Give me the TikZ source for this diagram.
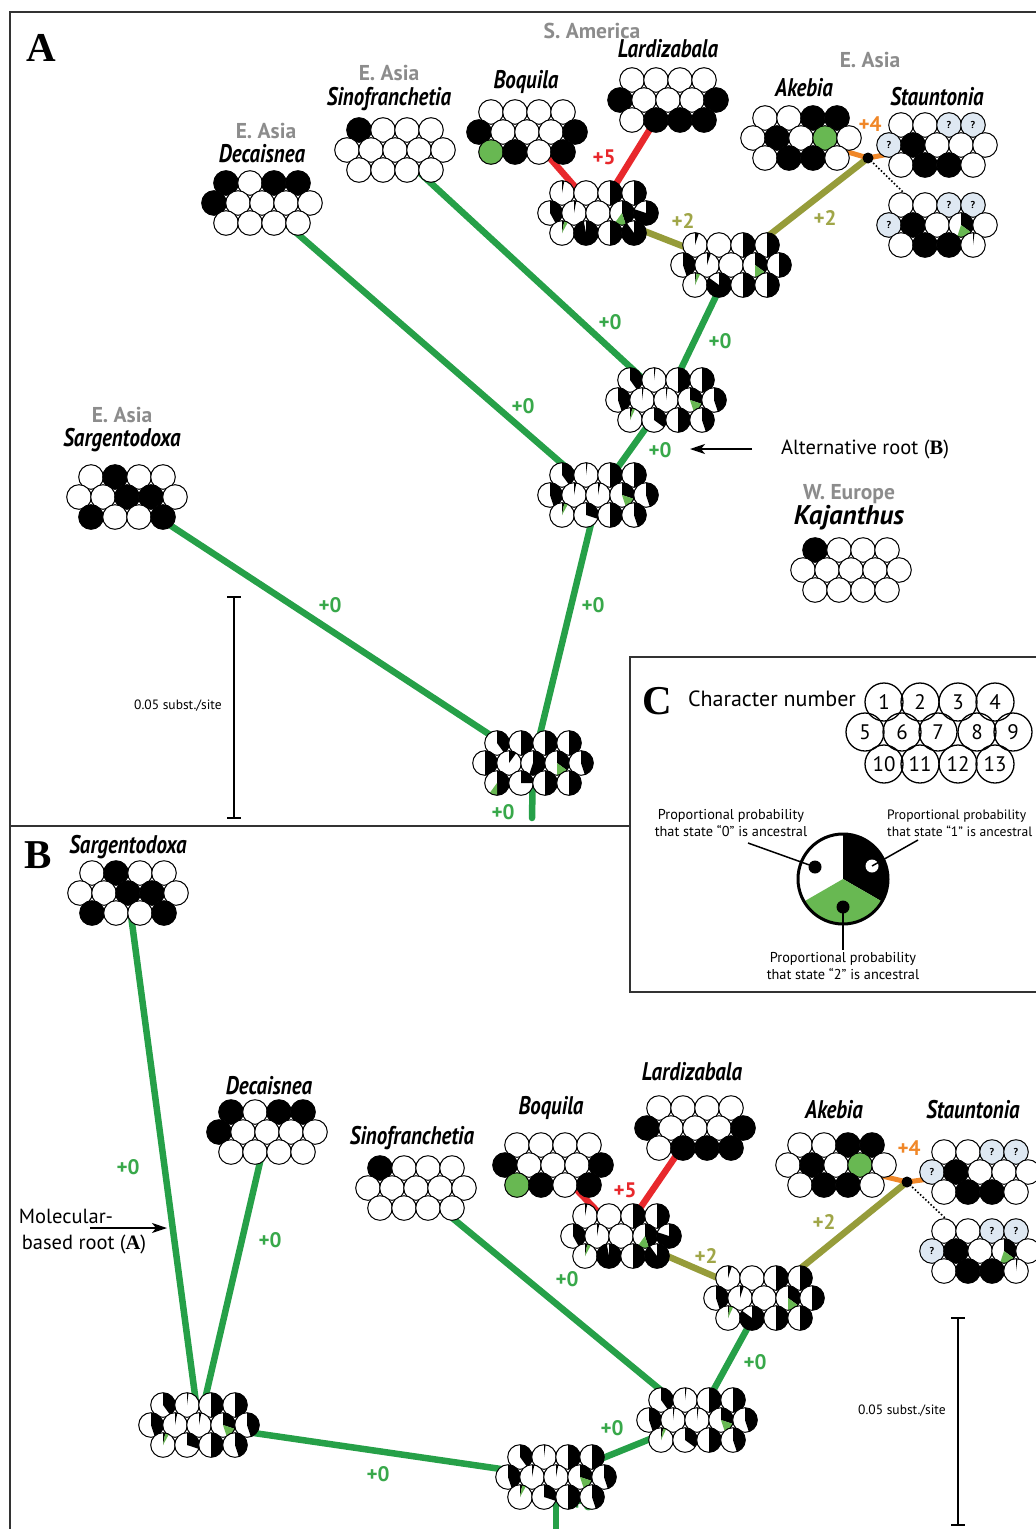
\documentclass[tikz,border=0pt]{standalone}
\usepackage{fontspec}
\setmainfont{PT Sans}
\newfontfamily\taxfont[FakeStretch=0.82]{PT Sans}
\newfontfamily\panelfont{Liberation Serif}
\usetikzlibrary{arrows.meta}
\definecolor{brgreen}{RGB}{38,160,72}
\definecolor{labgreen}{RGB}{56,168,74}
\definecolor{piegreen}{RGB}{104,184,82}
\definecolor{brred}{RGB}{232,40,44}
\definecolor{brolive}{RGB}{150,156,58}
\definecolor{labolive}{RGB}{160,166,72}
\definecolor{brorange}{RGB}{240,135,40}
\definecolor{regiongray}{RGB}{140,140,140}
\definecolor{qfill}{RGB}{222,232,242}
\pgfdeclarelayer{back}
\pgfdeclarelayer{bg}
\pgfsetlayers{back,bg,main}

\newcommand\cS{24}
\newcommand\cH{20}
\newcommand\cR{12.3}

% one pie: prefix, x, y, black fraction (-1 = unknown), green fraction
\newcommand\pieC[5]{%
  \begin{scope}[shift={(#2,#3)}]
  \ifdim #4pt<0pt
    \filldraw[fill=qfill, draw=black, line width=1] (0,0) circle (\cR);
    \node[qmark] (#1) at (0,0) {?};
  \else
    \fill[white] (0,0) circle (\cR);
    \ifdim #4pt>0pt
      \fill[black] (0,0) -- (-90:\cR) arc[start angle=-90, end angle={-90+360*#4}, radius=\cR] -- cycle;
    \fi
    \ifdim #5pt>0pt
      \fill[piegreen] (0,0) -- ({-90+360*#4}:\cR) arc[start angle={-90+360*#4}, end angle={-90+360*(#4+#5)}, radius=\cR] -- cycle;
    \fi
    \draw[line width=1] (0,0) circle (\cR);
  \fi
  \end{scope}}

% cluster of 13 characters: name, cx, cy, list of black/green
\newcommand\clus[4]{%
  \coordinate (#1) at (#2,#3);
  \fill[white] ({#2-1.5*\cS},{#3-\cH}) -- ({#2+1.5*\cS},{#3-\cH}) -- ({#2+2*\cS},#3) -- ({#2+1.5*\cS},{#3+\cH}) -- ({#2-1.5*\cS},{#3+\cH}) -- ({#2-2*\cS},#3) -- cycle;
  \foreach \stA/\stB [count=\ci] in {#4} {
    \pgfmathsetmacro\px{#2+\cS*(\ci<5 ? \ci-2.5 : (\ci<10 ? \ci-7 : \ci-11.5))}
    \pgfmathsetmacro\py{#3+\cH*(\ci<5 ? -1 : (\ci<10 ? 0 : 1))}
    \pieC{#1q\ci}{\px}{\py}{\stA}{\stB}
  }}

\begin{document}
\begin{tikzpicture}[x=1pt,y=-1pt,
  frame/.style={draw=black!80, line width=1.8},
  gbr/.style={line width=6.5, draw=brgreen},
  rbr/.style={line width=6.5, draw=brred},
  obr/.style={line width=6.5, draw=brolive},
  orbr/.style={line width=5, draw=brorange},
  taxon/.style={font=\taxfont\bfseries\itshape\fontsize{25.5}{25.5}\selectfont, inner sep=0},
  kaj/.style={font=\bfseries\itshape\fontsize{27}{27}\selectfont, inner sep=0},
  region/.style={font=\bfseries\fontsize{21.5}{21.5}\selectfont, text=regiongray, inner sep=0},
  glab/.style={font=\bfseries\fontsize{21}{21}\selectfont, text=labgreen, inner sep=0},
  rlab/.style={font=\bfseries\fontsize{21}{21}\selectfont, text=brred, inner sep=0},
  olab/.style={font=\bfseries\fontsize{21}{21}\selectfont, text=labolive, inner sep=0},
  orlab/.style={font=\bfseries\fontsize{21}{21}\selectfont, text=brorange, inner sep=0},
  note/.style={font=\fontsize{20.5}{20.5}\selectfont, inner sep=0},
  small/.style={font=\fontsize{14.3}{17}\selectfont, inner sep=0, align=center},
  tiny/.style={font=\fontsize{13.5}{14}\selectfont, inner sep=0},
  panel/.style={font=\panelfont\bfseries\fontsize{41}{41}\selectfont, inner sep=0},
  qmark/.style={font=\bfseries\fontsize{10}{10}\selectfont, inner sep=0},
  jdot/.style={circle, fill=black, inner sep=0, minimum size=11},
  numc/.style={circle, draw, line width=1.3, minimum size=38, inner sep=0, font=\fontsize{21}{21}\selectfont},
  arr/.style={line width=1.6, -{Stealth[length=15pt, width=10pt, inset=4pt]}},
  sbar/.style={line width=1.4},
]
\useasboundingbox (0,0) rectangle (1036,1529);
\begin{pgfonlayer}{back}
  \fill[white] (0,0) rectangle (1036,1529);
\end{pgfonlayer}

% ---------- frames ----------
\draw[frame] (1036,12) -- (10,12) -- (10,1529);
\draw[frame] (10,826) -- (630,826);
\draw[frame, fill=white] (1036,657) -- (630,657) -- (630,992) -- (1036,992);

% ================= PANEL A =================
\clus{sarA}{127}{497}{0/0,1/0,0/0,0/0,0/0,0/0,1/0,1/0,0/0,1/0,0/0,0/0,1/0}
\clus{decA}{262}{203}{1/0,0/0,1/0,1/0,1/0,0/0,0/0,0/0,0/0,0/0,0/0,0/0,0/0}
\clus{sinA}{395}{150}{1/0,0/0,0/0,0/0,0/0,0/0,0/0,0/0,0/0,0/0,0/0,0/0,0/0}
\clus{boqA}{527}{132}{0/0,0/0,0/0,0/0,1/0,0/0,0/0,0/0,1/0,0/1,1/0,0/0,1/0}
\clus{larA}{668}{100}{0/0,0/0,0/0,0/0,1/0,0/0,0/0,0/0,1/0,0/0,1/0,1/0,1/0}
\clus{akeA}{801}{138}{0/0,0/0,1/0,1/0,0/0,1/0,0/0,0/1,0/0,0/0,1/0,1/0,0/0}
\clus{staA}{937}{145}{0/0,0/0,-1/0,-1/0,-1/0,1/0,0/0,0/0,0/0,0/0,1/0,1/0,0/0}
\clus{stbA}{937}{225}{0/0,0/0,-1/0,-1/0,-1/0,1/0,0/0,0.35/0.2,0/0,0/0,1/0,1/0,0.02/0}
\clus{kajA}{851}{570}{1/0,0/0,0/0,0/0,0/0,0/0,0/0,0/0,0/0,0/0,0/0,0/0,0/0}
\clus{blA}{598}{213}{0.03/0,0/0,0.5/0,0.5/0,0.42/0,0.03/0,0/0,0.45/0.15,0.8/0,0.03/0.05,0.97/0,0.5/0,0.9/0}
\clus{asA}{731}{265}{0.05/0,0/0,0.5/0,0.5/0,0.45/0,0.05/0,0/0,0.35/0.15,0.5/0,0.02/0.05,0.85/0,0.5/0,0.5/0}
\clus{n3A}{666}{400}{0.4/0,0.02/0,0.5/0,0.5/0,0.45/0,0.02/0,0.02/0,0.3/0.15,0.45/0,0.03/0.04,0.35/0,0.5/0,0.45/0}
\clus{n2A}{598}{495}{0.4/0,0.02/0,0.5/0,0.5/0,0.45/0,0.03/0,0.03/0,0.3/0.15,0.45/0,0.03/0.05,0.3/0,0.5/0,0.45/0}
\node[glab] (g7) at (503,812) {+0};
\clus{n1A}{533}{763}{0.4/0,0.5/0,0.5/0,0.5/0,0.5/0,0.1/0,0.55/0,0.35/0.15,0.45/0,0.5/0.1,0.25/0,0.5/0,0.5/0}
\node[jdot] (jA) at (868,158) {};
\coordinate (rootA) at (532,818);

\begin{pgfonlayer}{bg}
  \draw[gbr] (sarA) -- (n1A);
  \draw[gbr] (decA) -- (n2A);
  \draw[gbr] (sinA) -- (n3A);
  \draw[gbr] (asA) -- (n3A);
  \draw[gbr] (n3A) -- (n2A);
  \draw[gbr] (n2A) -- (n1A);
  \draw[gbr, line cap=round] (n1A) -- (rootA);
  \draw[rbr] (boqA) -- (blA);
  \draw[rbr] (larA) -- (blA);
  \draw[obr] (blA) -- (asA);
  \draw[obr] (asA) -- (jA.center);
  \draw[orbr] (akeA) -- (jA.center) -- (staA);
  \draw[dotted, line width=1.6] (jA.center) -- (stbA);
\end{pgfonlayer}

\node[panel] (labA) at (41,48) {A};
\node[region] (rSAm) at (592,31) {S. America};
\node[taxon] (tLarA) at (668,49) {Lardizabala};
\node[region] (rEAa) at (870,60) {E. Asia};
\node[region] (rEAs) at (389,73) {E. Asia};
\node[taxon] (tSinA) at (389,99) {Sinofranchetia};
\node[taxon] (tBoqA) at (526,82) {Boquila};
\node[taxon] (tAkeA) at (804,88) {Akebia};
\node[taxon] (tStaA) at (937,97) {Stauntonia};
\node[region] (rEAd) at (266,131) {E. Asia};
\node[taxon] (tDecA) at (262,154) {Decaisnea};
\node[region] (rEAg) at (122,415) {E. Asia};
\node[taxon] (tSarA) at (122,440) {Sargentodoxa};
\node[region] (rWEu) at (849,494) {W. Europe};
\node[kaj] (tKaj) at (849,518) {Kajanthus};

\node[rlab] (iBL) at (604,157) {+5};
\node[orlab] (iAS) at (870,124) {+4};
\node[olab] (iO1) at (683,221) {+2};
\node[olab] (iO2) at (825,218) {+2};
\node[glab] (g1) at (610,322) {+0};
\node[glab] (g2) at (720,341) {+0};
\node[glab] (g3) at (523,406) {+0};
\node[glab] (g4) at (660,450) {+0};
\node[glab] (g5) at (593,605) {+0};
\node[glab] (g6) at (330,605) {+0};

\node[note] (alt) at (865,449) {Alternative root ({\panelfont\bfseries B})};
\coordinate (altTail) at (752,449);
\coordinate (altTip) at (690,449);
\draw[arr] (altTail) -- (altTip);

\coordinate (sA1) at (234,597);
\coordinate (sA2) at (234,818);
\draw[sbar] (sA1) -- (sA2);
\draw[sbar] ([xshift=-7]sA1) -- ([xshift=7]sA1);
\draw[sbar] ([xshift=-7]sA2) -- ([xshift=7]sA2);
\node[tiny] (sAt) at (178,706) {0.05 subst./site};

% ================= PANEL C =================
\node[panel] (labC) at (657,701) {C};
\node[note, font=\fontsize{22}{22}\selectfont] (charnum) at (772,699) {Character number};
\foreach \n/\x/\y in {1/884/702,2/920/702,3/958/702,4/995/702,5/865/732,6/902/732,7/938/732,8/977/732,9/1013/732,10/884/764,11/920/764,12/958/764,13/995/764}
  \node[numc] (cn\n) at (\x,\y) {\n};
\begin{scope}[shift={(843,879)}]
  \fill[white] (0,0) circle (45);
  \fill[black] (0,0) -- (-90:45) arc[start angle=-90, end angle=30, radius=45] -- cycle;
  \fill[piegreen] (0,0) -- (30:45) arc[start angle=30, end angle=150, radius=45] -- cycle;
  \draw[line width=3] (0,0) circle (45);
\end{scope}
\node[circle, fill=black, inner sep=0, minimum size=13] (d0) at (815,867) {};
\node[circle, fill=white, inner sep=0, minimum size=13] (d1) at (872,866) {};
\node[circle, fill=black, inner sep=0, minimum size=13] (d2) at (843,907) {};
\coordinate (l0) at (748,843);
\coordinate (l1) at (918,840);
\coordinate (l2) at (843,950);
\draw[line width=1.5] (d0.center) -- (l0);
\draw[line width=1.5] (d1.center) -- (l1);
\draw[line width=1.5] (d2.center) -- (l2);
\node[small] (t0) at (731,823) {Proportional probability\\that state “0” is ancestral};
\node[small, font=\fontsize{13.6}{17}\selectfont, anchor=west, align=left] (t1) at (887,823) {Proportional probability\\that state “1” is ancestral};
\node[small] (t2) at (843,966) {Proportional probability\\that state “2” is ancestral};

% ================= PANEL B =================
\clus{sarB}{128}{893}{0/0,1/0,0/0,0/0,0/0,0/0,1/0,1/0,0/0,1/0,0/0,0/0,1/0}
\clus{decB}{267}{1132}{1/0,0/0,1/0,1/0,1/0,0/0,0/0,0/0,0/0,0/0,0/0,0/0,0/0}
\clus{sinB}{416}{1188}{1/0,0/0,0/0,0/0,0/0,0/0,0/0,0/0,0/0,0/0,0/0,0/0,0/0}
\clus{boqB}{553}{1165}{0/0,0/0,0/0,0/0,1/0,0/0,0/0,0/0,1/0,0/1,1/0,0/0,1/0}
\clus{larB}{695}{1128}{0/0,0/0,0/0,0/0,1/0,0/0,0/0,0/0,1/0,0/0,1/0,1/0,1/0}
\clus{akeB}{836}{1165}{0/0,0/0,1/0,1/0,0/0,1/0,0/0,0/1,0/0,0/0,1/0,1/0,0/0}
\clus{staB}{980}{1172}{0/0,0/0,-1/0,-1/0,-1/0,1/0,0/0,0/0,0/0,0/0,1/0,1/0,0/0}
\clus{stbB}{980}{1251}{0/0,0/0,-1/0,-1/0,-1/0,1/0,0/0,0.35/0.2,0/0,0/0,1/0,1/0,0.02/0}
\clus{blB}{621}{1236}{0.03/0,0/0,0.5/0,0.5/0,0.42/0,0.03/0,0/0,0.45/0.15,0.8/0,0.03/0.05,0.97/0,0.5/0,0.9/0}
\clus{asB}{764}{1298}{0.05/0,0/0,0.5/0,0.5/0,0.45/0,0.05/0,0/0,0.35/0.15,0.5/0,0.02/0.05,0.85/0,0.5/0,0.5/0}
\clus{n3B}{697}{1420}{0.4/0,0.02/0,0.5/0,0.5/0,0.45/0,0.02/0,0.02/0,0.3/0.15,0.45/0,0.03/0.04,0.35/0,0.5/0,0.45/0}
\node[glab] (h7) at (583,1503) {+0};
\clus{rtB}{556}{1477}{0.4/0,0.02/0,0.5/0,0.5/0,0.45/0,0.03/0,0.03/0,0.3/0.15,0.45/0,0.03/0.05,0.3/0,0.5/0,0.45/0}
\clus{n1B}{199}{1425}{0.4/0,0.02/0,0.5/0,0.5/0,0.45/0,0.03/0,0.03/0,0.3/0.15,0.45/0,0.03/0.05,0.3/0,0.5/0,0.45/0}
\node[jdot] (jB) at (907,1182) {};
\coordinate (rootB) at (556,1535);

\begin{pgfonlayer}{bg}
  \draw[gbr] (sarB) -- (n1B);
  \draw[gbr] (decB) -- (n1B);
  \draw[gbr] (n1B) -- (rtB);
  \draw[gbr] (rtB) -- (n3B);
  \draw[gbr] (sinB) -- (n3B);
  \draw[gbr] (asB) -- (n3B);
  \draw[gbr] (rtB) -- (rootB);
  \draw[rbr] (boqB) -- (blB);
  \draw[rbr] (larB) -- (blB);
  \draw[obr] (blB) -- (asB);
  \draw[obr] (asB) -- (jB.center);
  \draw[orbr] (akeB) -- (jB.center) -- (staB);
  \draw[dotted, line width=1.6] (jB.center) -- (stbB);
\end{pgfonlayer}

\node[panel] (labB) at (38,855) {B};
\node[taxon] (tSarB) at (128,847) {Sargentodoxa};
\node[taxon] (tDecB) at (269,1086) {Decaisnea};
\node[taxon] (tLarB) at (692,1072) {Lardizabala};
\node[taxon] (tBoqB) at (551,1108) {Boquila};
\node[taxon] (tAkeB) at (834,1110) {Akebia};
\node[taxon] (tStaB) at (973,1110) {Stauntonia};
\node[taxon] (tSinB) at (412,1138) {Sinofranchetia};

\node[orlab] (iASB) at (909,1148) {+4};
\node[rlab] (iBLB) at (625,1190) {+5};
\node[olab] (iO1B) at (706,1256) {+2};
\node[olab] (iO2B) at (824,1222) {+2};
\node[glab] (h1) at (128,1167) {+0};
\node[glab] (h2) at (270,1240) {+0};
\node[glab] (h3) at (567,1279) {+0};
\node[glab] (h4) at (755,1362) {+0};
\node[glab] (h5) at (612,1428) {+0};
\node[glab] (h6) at (378,1474) {+0};

\node[note] (mol1) at (66,1216) {Molecular-};
\node[note] (mol2) at (84,1244) {based root ({\panelfont\bfseries A})};
\coordinate (molTail) at (90,1228);
\coordinate (molTip) at (167,1228);
\draw[arr] (molTail) -- (molTip);

\coordinate (sB1) at (958,1318);
\coordinate (sB2) at (958,1525);
\draw[sbar] (sB1) -- (sB2);
\draw[sbar] ([xshift=-7]sB1) -- ([xshift=7]sB1);
\draw[sbar] ([xshift=-7]sB2) -- ([xshift=7]sB2);
\node[tiny] (sBt) at (902,1411) {0.05 subst./site};
\end{tikzpicture}
\end{document}
